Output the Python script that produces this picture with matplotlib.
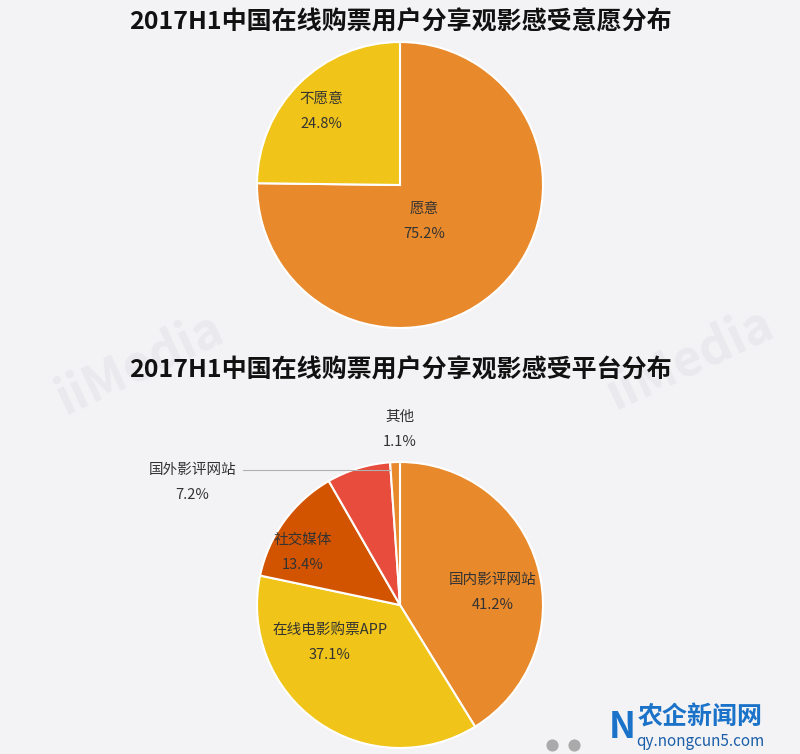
import matplotlib.pyplot as plt
import numpy as np

plt.rcParams['font.family'] = ['Noto Sans CJK SC', 'DejaVu Sans']

# 数据
title1 = "2017H1中国在线购票用户分享观影感受意愿分布"
labels1 = ["愿意", "不愿意"]
values1 = [75.2, 24.8]

title2 = "2017H1中国在线购票用户分享观影感受平台分布"
labels2 = ["国内影评网站", "在线电影购票APP", "社交媒体", "国外影评网站", "其他"]
values2 = [41.2, 37.1, 13.4, 7.2, 1.1]

# 样式
bg = "#f3f2f5"
colors1 = ["#e8892b", "#f0c419"]
colors2 = ["#e8892b", "#f0c419", "#d35400", "#e74c3c", "#e8892b"]
txt = "#333333"

W, H = 800, 754
fig = plt.figure(figsize=(8, 7.54), dpi=100, facecolor=bg)
ax = fig.add_axes([0, 0, 1, 1])
ax.set_facecolor(bg)

R = 143
c1 = (400, H - 185)
c2 = (400, H - 605)

# 水印
for (wx, wy) in [(140, H - 365), (690, H - 360)]:
    ax.text(wx, wy, "iiMedia", fontsize=36, fontweight="bold", color="#eae9ed",
            rotation=25, ha="center", va="center", zorder=0)

wedge_kw = dict(edgecolor="white", linewidth=1.5)
ax.pie(values1, colors=colors1, startangle=90, counterclock=False,
       center=c1, radius=R, wedgeprops=wedge_kw, frame=True)
ax.pie(values2, colors=colors2, startangle=90, counterclock=False,
       center=c2, radius=R, wedgeprops=wedge_kw, frame=True)

# 标签位置 (相对圆心, 以半径为单位)
pos1 = [(0.17, -0.25), (-0.55, 0.52)]
for lab, v, (dx, dy) in zip(labels1, values1, pos1):
    x, y = c1[0] + dx * R, c1[1] + dy * R
    ax.text(x, y + 12, lab, fontsize=10.5, color=txt, ha="center", va="center")
    ax.text(x, y - 13, f"{v}%", fontsize=10.5, color=txt, ha="center", va="center")

pos2 = [(0.65, 0.09), (-0.49, -0.26), (-0.68, 0.37), (-1.45, 0.86), (0.0, 1.23)]
for lab, v, (dx, dy) in zip(labels2, values2, pos2):
    x, y = c2[0] + dx * R, c2[1] + dy * R
    ax.text(x, y + 12, lab, fontsize=10.5, color=txt, ha="center", va="center")
    ax.text(x, y - 13, f"{v}%", fontsize=10.5, color=txt, ha="center", va="center")

# 国外影评网站引导线
ang = np.deg2rad(90 + (values2[4] + values2[3] / 2) * 3.6)
ey = c2[1] + R * 0.99 * np.sin(ang)
ax.plot([c2[0] - 157, c2[0] - 10], [ey, ey], color="#b0b0b0", lw=0.8)

ax.text(W / 2, H - 22, title1, fontsize=18, fontweight="bold", color="#111111",
        ha="center", va="center")
ax.text(W / 2, H - 370, title2, fontsize=18, fontweight="bold", color="#111111",
        ha="center", va="center")

# 翻页点与来源标识
ax.scatter([552, 574], [H - 745, H - 745], s=60, color="#aaaaaa", zorder=3)
ax.text(700, H - 718, "农企新闻网", fontsize=18, fontweight="bold", color="#1a73c8",
        ha="center", va="center")
ax.text(700, H - 741, "qy.nongcun5.com", fontsize=11, color="#1a5fa8",
        ha="center", va="center")
ax.text(622, H - 728, "N", fontsize=26, fontweight="bold", color="#1a73c8",
        ha="center", va="center")

ax.set_xlim(0, W)
ax.set_ylim(0, H)
ax.set_aspect("equal")
ax.axis("off")

fig.savefig("out.png", dpi=100, facecolor=bg)
